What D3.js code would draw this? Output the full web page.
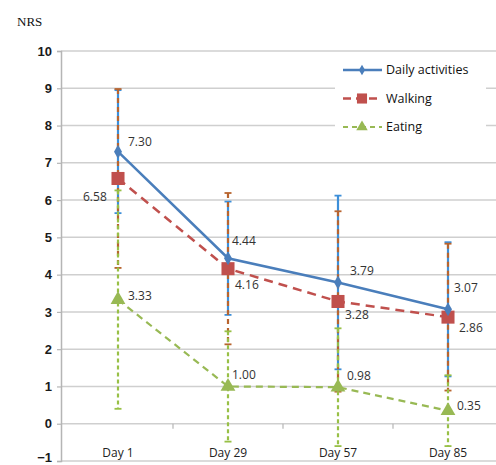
<!DOCTYPE html>
<html>
<head>
<meta charset="utf-8">
<script src="https://cdn.jsdelivr.net/npm/d3@7/dist/d3.min.js"></script>
<style>
  html, body { margin: 0; padding: 0; background: #fff; }
  svg { display: block; }
</style>
</head>
<body>
<svg id="chart" width="496" height="465"></svg>
<script>
// Visit days and NRS means with standard deviations per pain domain
const days = ["Day 1", "Day 29", "Day 57", "Day 85"];
const dailyMean = [7.30, 4.44, 3.79, 3.07];
const dailySD = [1.65, 1.52, 2.33, 1.80];
const walkingMean = [6.58, 4.16, 3.28, 2.86];
const walkingSD = [2.40, 2.03, 2.42, 1.97];
const eatingMean = [3.33, 1.00, 0.98, 0.35];
const eatingSD = [2.93, 1.48, 1.58, 0.95];
const yTicks = [-1, 0, 1, 2, 3, 4, 5, 6, 7, 8, 9, 10];
const seriesNames = ["Daily activities", "Walking", "Eating"];

// Nudges for value labels (dx, dy from the point), per series
const labelNudge = [
  [[10, -10], [4, -17], [12, -12], [6, -22]],
  [[-35, 18], [7, 16], [7, 13], [11, 11]],
  [[10, -4], [4, -12], [9, -11], [9, -5]]
];

const svg = d3.select("#chart");
const plotLeft = 61, plotTop = 51, plotBottom = 461;

const x = d3.scaleBand().domain(days).range([63, 503]);
const cx = d => x(d) + x.bandwidth() / 2;
const y = d3.scaleLinear().domain([-1, 10]).range([plotBottom, plotTop]);

// horizontal gridlines
svg.append("g").selectAll("line").data(yTicks).join("line")
  .attr("x1", plotLeft).attr("x2", 496)
  .attr("y1", d => y(d)).attr("y2", d => y(d))
  .attr("stroke", "#cfcfcf").attr("stroke-width", 1.5);

// y axis
const yAxis = d3.axisLeft(y).tickValues(yTicks).tickSize(4).tickPadding(5).tickFormat(d3.format("d"));
const gy = svg.append("g").attr("transform", `translate(${plotLeft},0)`).call(yAxis);
gy.select(".domain").attr("stroke", "#b5b5b5").attr("stroke-width", 1.5);
gy.selectAll(".tick line").attr("stroke", "#b5b5b5").attr("stroke-width", 1.2);
gy.selectAll(".tick text")
  .attr("font-family", "Arial, 'Liberation Sans', sans-serif")
  .attr("font-size", 13).attr("font-weight", "bold").attr("fill", "#1a1a1a")
  .attr("dy", d => d === -1 ? "0.05em" : "0.32em");

// category boundary ticks along the zero line
const bounds = days.slice(1).map(d => x(d));
svg.append("g").selectAll("line").data(bounds).join("line")
  .attr("x1", d => d).attr("x2", d => d)
  .attr("y1", y(0)).attr("y2", y(0) + 5)
  .attr("stroke", "#b5b5b5").attr("stroke-width", 1.2);

// category labels
svg.append("g").selectAll("text").data(days).join("text")
  .attr("x", d => cx(d)).attr("y", 457)
  .attr("text-anchor", "middle")
  .attr("font-family", "'Open Sans', 'Noto Sans', sans-serif")
  .attr("font-size", 12).attr("fill", "#222")
  .text(d => d);

// axis title
svg.append("text").attr("x", 17).attr("y", 26)
  .attr("font-family", "'Liberation Serif', 'DejaVu Serif', serif")
  .attr("font-size", 13).attr("fill", "#111").text("NRS");

const series = [
  { name: seriesNames[0], mean: dailyMean, sd: dailySD, color: "#4a7ebb", err: "#3d8fd9", errDash: null, dash: null, width: 2.5, marker: d3.symbolDiamond, size: 55 },
  { name: seriesNames[1], mean: walkingMean, sd: walkingSD, color: "#c0504d", err: "#b8642e", errDash: "5,4", dash: "9,6", width: 2.5, marker: d3.symbolSquare, size: 170 },
  { name: seriesNames[2], mean: eatingMean, sd: eatingSD, color: "#98b954", err: "#98c046", errDash: "4,3", dash: "7,5", width: 2.2, marker: d3.symbolTriangle, size: 95 }
];

// error bars
series.forEach(s => {
  const g = svg.append("g");
  days.forEach((d, i) => {
    const hi = y(s.mean[i] + s.sd[i]), lo = y(s.mean[i] - s.sd[i]);
    g.append("line").attr("x1", cx(d)).attr("x2", cx(d)).attr("y1", hi).attr("y2", lo)
      .attr("stroke", s.err).attr("stroke-width", 2.2)
      .attr("stroke-dasharray", s.errDash);
    [hi, lo].forEach(v => g.append("line")
      .attr("x1", cx(d) - 3.5).attr("x2", cx(d) + 3.5).attr("y1", v).attr("y2", v)
      .attr("stroke", s.err).attr("stroke-width", 1.8));
  });
});

// lines and markers
const line = d3.line().x((v, i) => cx(days[i])).y(v => y(v));
series.slice().reverse().forEach(s => {
  svg.append("path").datum(s.mean).attr("d", line)
    .attr("fill", "none").attr("stroke", s.color).attr("stroke-width", s.width)
    .attr("stroke-dasharray", s.dash);
});
series.slice().reverse().forEach(s => {
  svg.append("g").selectAll("path").data(s.mean).join("path")
    .attr("transform", (v, i) => `translate(${cx(days[i])},${y(v)})`)
    .attr("d", d3.symbol().type(s.marker).size(s.size))
    .attr("fill", s.color);
});

// value labels
series.forEach((s, k) => {
  svg.append("g").selectAll("text").data(s.mean).join("text")
    .attr("x", (v, i) => cx(days[i]) + labelNudge[k][i][0])
    .attr("y", (v, i) => y(v) + labelNudge[k][i][1])
    .attr("dy", "0.35em")
    .attr("font-family", "'Open Sans', 'Noto Sans', sans-serif")
    .attr("font-size", 12).attr("fill", "#333")
    .text(v => v.toFixed(2));
});

// legend
const lg = svg.append("g");
lg.append("rect").attr("x", 335).attr("y", 57).attr("width", 151).attr("height", 80).attr("fill", "#fff");
series.forEach((s, i) => {
  const ly = 70 + i * 28.5;
  lg.append("line").attr("x1", 343).attr("x2", 382).attr("y1", ly).attr("y2", ly)
    .attr("stroke", s.color).attr("stroke-width", s.width)
    .attr("stroke-dasharray", s.dash ? (i === 1 ? "8,5" : "5,4") : null);
  lg.append("path").attr("transform", `translate(362,${ly})`)
    .attr("d", d3.symbol().type(s.marker).size(s.size * 0.6)).attr("fill", s.color);
  lg.append("text").attr("x", 386).attr("y", ly).attr("dy", "0.35em")
    .attr("font-family", "'Open Sans', 'Noto Sans', sans-serif")
    .attr("font-size", 12.5).attr("fill", "#111").text(s.name);
});
</script>
</body>
</html>
